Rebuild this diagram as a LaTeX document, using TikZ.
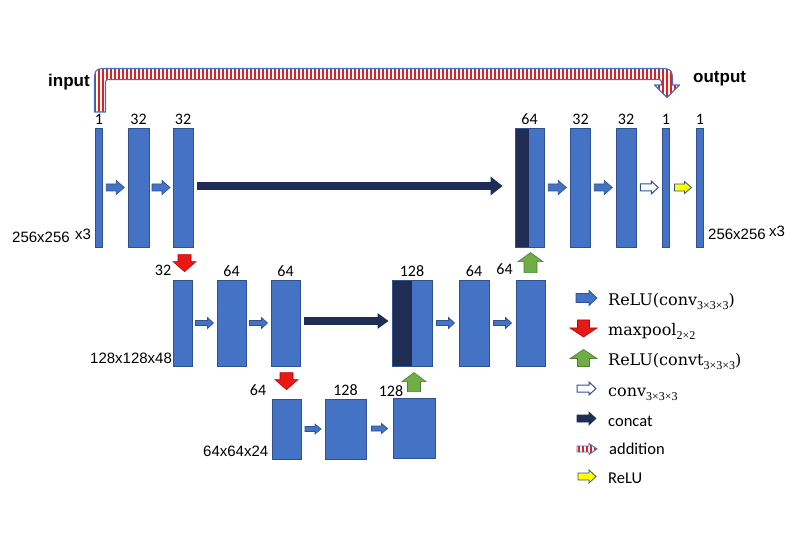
\documentclass[tikz,border=0pt]{standalone}
\usepackage{fontspec}
\setmainfont{Carlito}
\newfontfamily\arialf{Liberation Sans}
\newfontfamily\serf{DejaVu Serif}
\newfontfamily\subf{Liberation Serif}
\usetikzlibrary{calc,arrows.meta}
\definecolor{boxblue}{HTML}{4472C4}
\definecolor{boxedge}{HTML}{2F528F}
\definecolor{navyc}{HTML}{1F2D55}
\definecolor{redc}{HTML}{E81818}
\definecolor{rededge}{HTML}{C00000}
\definecolor{greenc}{HTML}{70AD47}
\definecolor{greenedge}{HTML}{507E32}
\definecolor{yellowc}{HTML}{FFFF00}
\definecolor{stripered}{HTML}{E02020}
\begin{document}
\begin{tikzpicture}[x=1pt,y=-1pt,
  box/.style={rectangle, fill=boxblue, draw=boxedge, line width=0.8pt, inner sep=0pt, minimum width=#1},
  toprow/.style={minimum height=119pt},
  midrow/.style={minimum height=86pt},
  botrow/.style={minimum height=60pt},
  catbox/.style={path picture={\fill[navyc] (path picture bounding box.north west) rectangle ([xshift=#1]path picture bounding box.south west);}},
  pics/barrow/.style n args={4}{code={
    \path[pic actions] (-#1/2,-#3/2) -- (#1/2-#4,-#3/2) -- (#1/2-#4,-#2/2) -- (#1/2,0) -- (#1/2-#4,#2/2) -- (#1/2-#4,#3/2) -- (-#1/2,#3/2) -- cycle;
  }},
  reluarr/.style={draw=boxedge, fill=boxblue, line width=0.7pt},
  poolarr/.style={draw=rededge, fill=redc, line width=0.6pt, rotate=-90},
  convtarr/.style={draw=greenedge, fill=greenc, line width=0.6pt, rotate=90},
  hollowarr/.style={draw=boxedge, fill=white, line width=1pt},
  yellowarr/.style={draw=boxedge, fill=yellowc, line width=0.8pt},
  navyarr/.style={draw=navyc, fill=navyc, line width=0.6pt},
  concatline/.style={draw=navyc, line width=8pt, -{Triangle[length=12pt,width=18pt]}},
  num/.style={font=\fontsize{16}{16}\selectfont, inner sep=0pt, anchor=base},
  dimlab/.style={font=\arialf\fontsize{15}{15}\selectfont, inner sep=0pt, anchor=base west},
  iolab/.style={font=\arialf\bfseries\fontsize{17}{17}\selectfont, inner sep=0pt, anchor=base west},
  legser/.style={font=\serf\fontsize{16}{16}\selectfont, inner sep=0pt, anchor=base west},
  legsans/.style={font=\fontsize{16.5}{16.5}\selectfont, inner sep=0pt, anchor=base west}
]
\useasboundingbox[fill=white] (0,0) rectangle (800,534);
\newcommand{\subs}[1]{{\subf\fontsize{12}{12}\selectfont\raisebox{-4pt}{#1}}}

% ---- addition (skip) arrow ----
\begin{scope}
  \clip (94.5,112) -- (94.5,84) .. controls (94.5,68.5) .. (110,68.5) -- (656,68.5) .. controls (672.5,68.5) .. (672.5,85) -- (679.5,85) -- (667,97.5) -- (654.5,85) -- (661.5,85) .. controls (661.5,79.5) .. (656,79.5) -- (111,79.5) .. controls (105.5,79.5) .. (105.5,85) -- (105.5,112) -- cycle;
  \fill[white] (80,60) rectangle (690,120);
  \foreach \xx in {91,95,...,687} \draw[stripered, line width=1.8pt] (\xx,60) -- (\xx,120);
\end{scope}
\draw[boxblue, line width=1.1pt, line join=round] (94.5,112) -- (94.5,84) .. controls (94.5,68.5) .. (110,68.5) -- (656,68.5) .. controls (672.5,68.5) .. (672.5,85) -- (679.5,85) -- (667,97.5) -- (654.5,85) -- (661.5,85) .. controls (661.5,79.5) .. (656,79.5) -- (111,79.5) .. controls (105.5,79.5) .. (105.5,85) -- (105.5,112) -- cycle;

\node[iolab] (inp) at (48,87) {input};
\node[iolab] (outp) at (693,83) {output};

% ---- top row ----
\node[box=7pt, toprow] (t1) at (99,187.5) {};
\node[box=21pt, toprow] (t2) at (138.5,187.5) {};
\node[box=20pt, toprow] (t3) at (183,187.5) {};
\node[box=29pt, toprow, catbox=14pt] (t4) at (529.5,187.5) {};
\node[box=20pt, toprow] (t5) at (580.5,187.5) {};
\node[box=20pt, toprow] (t6) at (626,187.5) {};
\node[box=7pt, toprow] (t7) at (666,187.5) {};
\node[box=7pt, toprow] (t8) at (700,187.5) {};

\node[num] (n1) at ([yshift=3pt]t1.north) {1};
\node[num] (n2) at ([yshift=3pt]t2.north) {32};
\node[num] (n3) at ([yshift=3pt]t3.north) {32};
\node[num] (n4) at ([yshift=3pt]t4.north) {64};
\node[num] (n5) at ([yshift=3pt]t5.north) {32};
\node[num] (n6) at ([yshift=3pt]t6.north) {32};
\node[num] (n7) at ([yshift=3pt]t7.north) {1};
\node[num] (n8) at ([yshift=3pt]t8.north) {1};

\pic[reluarr] (a12) at ($(t1.east)!0.5!(t2.west)$) {barrow={18}{14}{7}{8}};
\pic[reluarr] (a23) at ($(t2.east)!0.5!(t3.west)$) {barrow={18}{14}{7}{8}};
\pic[reluarr] (a45) at ($(t4.east)!0.5!(t5.west)$) {barrow={18}{14}{7}{8}};
\pic[reluarr] (a56) at ($(t5.east)!0.5!(t6.west)$) {barrow={18}{14}{7}{8}};
\pic[hollowarr] (a67) at ($(t6.east)!0.5!(t7.west)$) {barrow={18}{13}{7}{7}};
\pic[yellowarr] (a78) at ($(t7.east)!0.5!(t8.west)$) {barrow={17}{12}{7}{7}};
\draw[concatline, shorten <=4pt, shorten >=12pt] ([yshift=1.5pt]t3.east) -- ([yshift=1.5pt]t4.west);

\node[dimlab] (d1) at (12,243) {256x256};
\node[dimlab] (d1b) at (75,240) {x3};
\node[dimlab] (d2) at (708,240) {256x256};
\node[dimlab] (d2b) at (769,237) {x3};

% ---- middle row ----
\node[box=19pt, midrow] (m1) at (182.5,323) {};
\node[box=29pt, midrow] (m2) at (231.5,323) {};
\node[box=29pt, midrow] (m3) at (285.5,323) {};
\node[box=40pt, midrow, catbox=20pt] (m4) at (412,323) {};
\node[box=30pt, midrow] (m5) at (474,323) {};
\node[box=29pt, midrow] (m6) at (530.5,323) {};

\node[num] (p1) at (163,276) {32};
\node[num] (p2) at ([yshift=3pt]m2.north) {64};
\node[num] (p3) at ([yshift=3pt]m3.north) {64};
\node[num] (p4) at ([yshift=3pt]m4.north) {128};
\node[num] (p5) at ([yshift=3pt]m5.north) {64};
\node[num] (p6) at (504.5,275) {64};

\pic[reluarr] (b12) at ($(m1.east)!0.5!(m2.west)$) {barrow={18}{11}{5}{6}};
\pic[reluarr] (b23) at ($(m2.east)!0.5!(m3.west)$) {barrow={18}{11}{5}{6}};
\pic[reluarr] (b45) at ($(m4.east)!0.5!(m5.west)$) {barrow={18}{11}{5}{6}};
\pic[reluarr] (b56) at ($(m5.east)!0.5!(m6.west)$) {barrow={18}{11}{5}{6}};
\draw[draw=navyc, line width=7.5pt, -{Triangle[length=11pt,width=15pt]}, shorten <=4pt, shorten >=3pt] ([yshift=2pt]m3.east) -- ([yshift=2pt]m4.west);

\pic[poolarr] (pool1) at ($(m1.north)+(2,-16.5)$) {barrow={17}{23}{13}{10}};
\pic[convtarr] (up1) at ($(m6.north)+(0,-17)$) {barrow={20}{25}{13}{9}};

\node[dimlab] (d3) at (90,363) {128x128x48};

% ---- bottom row ----
\node[box=29pt, botrow] (c1) at (286.5,429) {};
\node[box=41pt, botrow] (c2) at (345.5,429) {};
\node[box=42pt, botrow] (c3) at (414,428) {};

\node[num] (q1) at (258,395) {64};
\node[num] (q2) at ([yshift=3pt]c2.north) {128};
\node[num] (q3) at (391,396) {128};

\pic[reluarr] (c12) at ($(c1.east)!0.5!(c2.west)$) {barrow={16}{10}{5}{6}};
\pic[reluarr] (c23) at ($(c2.east)!0.5!(c3.west)$) {barrow={16}{10}{5}{6}};

\pic[poolarr] (pool2) at ($(c1.north)+(0,-17.5)$) {barrow={17}{23}{13}{10}};
\pic[convtarr] (up2) at ($(c3.north)+(0,-15.5)$) {barrow={19}{24}{13}{9}};

\node[dimlab] (d4) at (203,456) {64x64x24};

% ---- legend ----
\pic[reluarr] (k1) at (586.5,298) {barrow={21}{15}{9}{8}};
\node[legser] (k1t) at (608,306) {ReLU(conv\subs{3×3×3})};
\pic[poolarr] (k2) at (583.5,328.5) {barrow={17}{27}{12}{9}};
\node[legser] (k2t) at (608,335) {maxpool\subs{2×2}};
\pic[convtarr] (k3) at (583.5,358) {barrow={17}{27}{12}{9}};
\node[legser] (k3t) at (608,366) {ReLU(convt\subs{3×3×3})};
\pic[hollowarr] (k4) at (586.5,388.5) {barrow={19}{13}{7}{7}};
\node[legser] (k4t) at (608,396) {conv\subs{3×3×3}};
\pic[navyarr] (k5) at (586.5,418.5) {barrow={19}{13}{7}{7}};
\node[legsans] (k5t) at (608,426) {concat};
\begin{scope}
  \clip (577,446) -- (589,446) -- (589,443.5) -- (597,449) -- (589,454.5) -- (589,452) -- (577,452) -- cycle;
  \fill[white] (575,440) rectangle (600,458);
  \foreach \xx in {579,583,...,597} \draw[stripered, line width=1.6pt] (\xx,440) -- (\xx,458);
\end{scope}
\draw[boxblue, line width=0.9pt] (577,446) -- (589,446) -- (589,443.5) -- (597,449) -- (589,454.5) -- (589,452) -- (577,452) -- cycle;
\node[legsans] (k6t) at (609,454) {addition};
\pic[yellowarr] (k7) at (587,476.5) {barrow={18}{13}{7}{7}};
\node[legsans] (k7t) at (608,483) {ReLU};
\end{tikzpicture}
\end{document}
